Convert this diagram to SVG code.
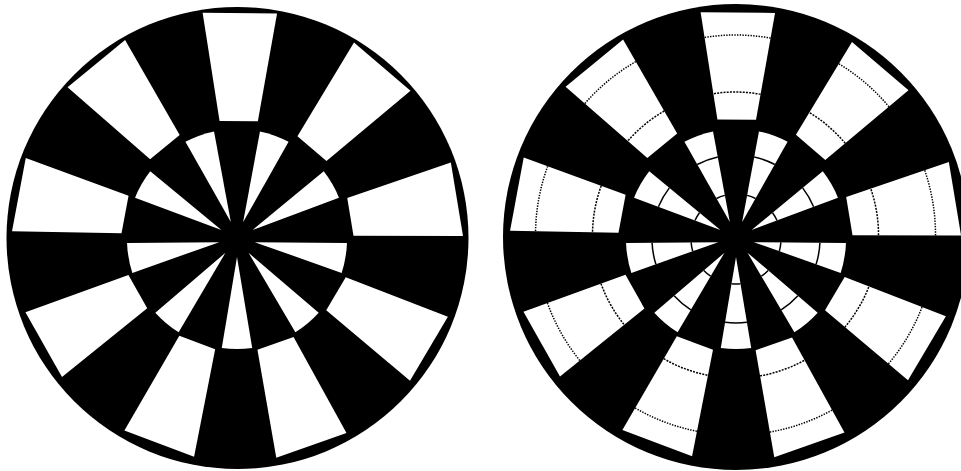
<svg xmlns="http://www.w3.org/2000/svg" width="961" height="471" viewBox="0 0 961 471">
<defs>
<style>
.bg{fill:#fff}
.disk{fill:#000}
.dot{fill:none;stroke:#000;stroke-width:1.5;stroke-dasharray:1.4 1.3}
.dash{fill:none;stroke:#000;stroke-width:1.5;stroke-dasharray:2 1.2}
.sol{fill:none;stroke:#000;stroke-width:1.5}
</style>
<polygon id="oL" points="116,-1.01 225.5,-1.97 212.57,-75.27 109.35,-38.72"/>
<polygon id="oR" points="117,-1.02 225.5,-1.97 212.57,-75.27 110.29,-39.06"/>
<path id="in" d="M18,0 L108.95,-15.22 A110,110 0 0 1 108.95,15.22 Z"/>
<g id="oDec"><path class="dot" d="M200,-1.7 A200,200 0 0 0 188.5,-66.8"/><path class="dash" d="M143,-1.2 A143,143 0 0 0 134.8,-47.7"/></g>
<g id="iDec" class="sol"><path d="M44.78,-4.48 A45,45 0 0 1 44.78,4.48"/><path d="M83.29,-10.93 A84,84 0 0 1 83.29,10.93"/></g>
</defs>
<rect class="bg" x="0" y="0" width="961" height="471"/>

<g id="left-disc">
<circle class="disk" cx="237.5" cy="238" r="231"/>
<g id="left-outer" transform="translate(237.5 235.5) rotate(0.6)" fill="#fff">
<use href="#oL"/>
<use href="#oL" transform="rotate(-40)"/>
<use href="#oL" transform="rotate(-80)"/>
<use href="#oL" transform="rotate(-120)"/>
<use href="#oL" transform="rotate(-160)"/>
<use href="#oL" transform="rotate(-200)"/>
<use href="#oL" transform="rotate(-240)"/>
<use href="#oL" transform="rotate(-280)"/>
<use href="#oL" transform="rotate(-320)"/>
</g>
<g id="left-inner" transform="translate(237 239)" fill="#fff">
<use href="#in" transform="rotate(-30)"/>
<use href="#in" transform="rotate(-70)"/>
<use href="#in" transform="rotate(-110)"/>
<use href="#in" transform="rotate(-150)"/>
<use href="#in" transform="rotate(-190)"/>
<use href="#in" transform="rotate(-230)"/>
<use href="#in" transform="rotate(-270)"/>
<use href="#in" transform="rotate(-310)"/>
<use href="#in" transform="rotate(-350)"/>
</g>
</g>

<g id="right-disc">
<circle class="disk" cx="736" cy="237" r="233"/>
<g id="right-outer" transform="translate(735.5 235) rotate(0.6)" fill="#fff">
<use href="#oR"/>
<use href="#oR" transform="rotate(-40)"/>
<use href="#oR" transform="rotate(-80)"/>
<use href="#oR" transform="rotate(-120)"/>
<use href="#oR" transform="rotate(-160)"/>
<use href="#oR" transform="rotate(-200)"/>
<use href="#oR" transform="rotate(-240)"/>
<use href="#oR" transform="rotate(-280)"/>
<use href="#oR" transform="rotate(-320)"/>
<use href="#oDec"/>
<use href="#oDec" transform="rotate(-40)"/>
<use href="#oDec" transform="rotate(-80)"/>
<use href="#oDec" transform="rotate(-120)"/>
<use href="#oDec" transform="rotate(-160)"/>
<use href="#oDec" transform="rotate(-200)"/>
<use href="#oDec" transform="rotate(-240)"/>
<use href="#oDec" transform="rotate(-280)"/>
<use href="#oDec" transform="rotate(-320)"/>
</g>
<g id="right-inner" transform="translate(736 239)" fill="#fff">
<use href="#in" transform="rotate(-30)"/>
<use href="#in" transform="rotate(-70)"/>
<use href="#in" transform="rotate(-110)"/>
<use href="#in" transform="rotate(-150)"/>
<use href="#in" transform="rotate(-190)"/>
<use href="#in" transform="rotate(-230)"/>
<use href="#in" transform="rotate(-270)"/>
<use href="#in" transform="rotate(-310)"/>
<use href="#in" transform="rotate(-350)"/>
<use href="#iDec" transform="rotate(-30)"/>
<use href="#iDec" transform="rotate(-70)"/>
<use href="#iDec" transform="rotate(-110)"/>
<use href="#iDec" transform="rotate(-150)"/>
<use href="#iDec" transform="rotate(-190)"/>
<use href="#iDec" transform="rotate(-230)"/>
<use href="#iDec" transform="rotate(-270)"/>
<use href="#iDec" transform="rotate(-310)"/>
<use href="#iDec" transform="rotate(-350)"/>
</g>
</g>
</svg>
